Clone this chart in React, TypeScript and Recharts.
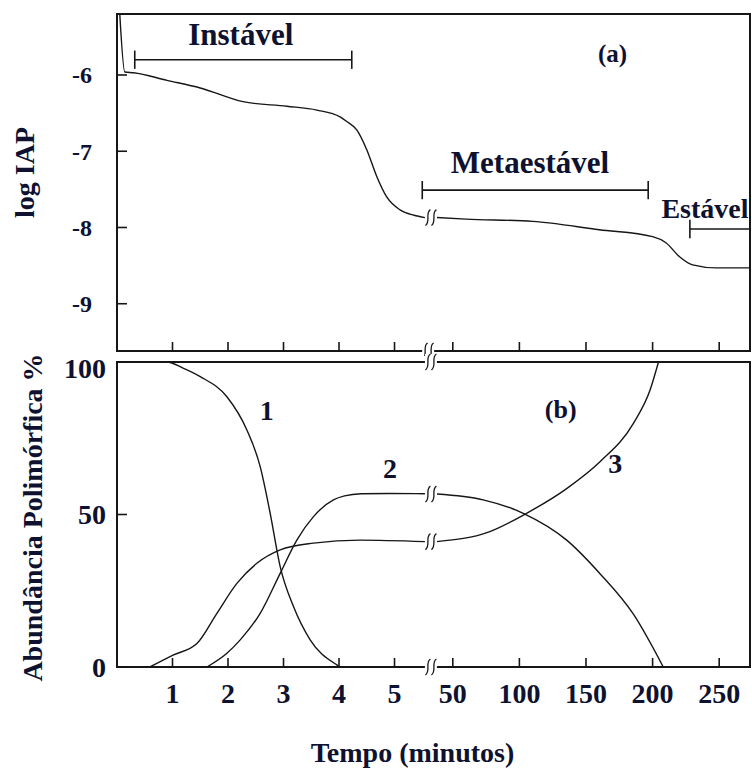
import React from "react";
import { LineChart, Line, XAxis, YAxis, ReferenceArea, ReferenceLine, ReferenceDot, Label } from "recharts";

const INK = "#161616";
const TEXT = "#0e1230";
const FONT = '"Liberation Serif", "Times New Roman", serif';

// broken time axis: 0-5 min drawn linearly, then 50-250 min compressed
const toAxis = (t: number) => (t <= 6 ? t : 6.05 + (t - 50) * 0.024);
const X_MAX = 11.405;

// log IAP vs time (minutes)
const iapEarly: [number, number][] = [
  [0.05, -5.2], [0.14, -5.96], [0.3, -5.97], [0.9, -6.07], [1.5, -6.17], [2.27, -6.35],
  [3.06, -6.41], [3.6, -6.46], [4.02, -6.55], [4.14, -6.61], [4.32, -6.72], [4.5, -6.98],
  [4.68, -7.33], [4.86, -7.6], [5.1, -7.77], [5.35, -7.84], [5.55, -7.87],
];
const iapLate: [number, number][] = [
  [38, -7.87], [60, -7.89], [110, -7.92], [160, -8.03], [200, -8.12], [210, -8.2],
  [220, -8.38], [230, -8.49], [248, -8.53], [273, -8.53],
];

// polymorph abundance (%) vs time (minutes)
const form1Early: [number, number][] = [
  [0, 100], [0.9, 100], [1.19, 98], [1.5, 95.2], [1.98, 88.6], [2.34, 77.7], [2.58, 65.7],
  [2.76, 50.4], [2.94, 32.9], [3.18, 19.8], [3.48, 8.9], [3.96, 0.7], [4.02, 0], [5.55, 0],
];
const form2Early: [number, number][] = [
  [1.62, 0], [1.98, 4.5], [2.22, 8.9], [2.58, 17.6], [2.94, 30.7], [3.24, 41.6],
  [3.54, 49.3], [3.9, 54.8], [4.1, 56.1], [4.4, 56.8], [4.9, 56.9], [5.55, 56.8],
];
const form2Late: [number, number][] = [
  [38, 56.7], [72.8, 54.8], [102.9, 50.4], [135.5, 41.6], [160.5, 30.6], [185.6, 17.3],
  [208, 0],
];
const form3Early: [number, number][] = [
  [0.59, 0], [1.01, 3.9], [1.44, 7.7], [1.8, 17.6], [2.16, 27.4], [2.52, 34], [2.94, 38.4],
  [3.54, 40.6], [4.38, 41.6], [5.55, 41.1],
];
const form3Late: [number, number][] = [
  [38, 41.1], [77.8, 44.4], [105.4, 50.4], [135.5, 58.5], [160.5, 67.3], [185.6, 79.9],
  [198.1, 90.8], [204.4, 100],
];

const xTickMinutes = [1, 2, 3, 4, 5, 50, 100, 150, 200, 250];
const iapTicks = [-6, -7, -8, -9];
const abundTicks = [0, 50, 100];
const IAP_DOMAIN: [number, number] = [-9.62, -5.2];

const xTicks = xTickMinutes.map(toAxis);
const BREAK_X = (toAxis(5.55) + toAxis(38)) / 2;
const pts = (arr: [number, number][]) => arr.map(([t, v]) => ({ x: toAxis(t), v }));

const txt = (size: number) => ({
  fontFamily: FONT,
  fontWeight: "bold" as const,
  fontSize: size,
  fill: TEXT,
});

const XTick = (props: any) => {
  const { x, y, payload, showLabel } = props;
  const i = xTicks.findIndex((t) => Math.abs(t - payload.value) < 1e-6);
  return (
    <g>
      <line x1={x} y1={y} x2={x} y2={y - 9} stroke={INK} strokeWidth={1.6} />
      {showLabel && (
        <text x={x} y={y + 36} textAnchor="middle" {...txt(28)}>
          {xTickMinutes[i]}
        </text>
      )}
    </g>
  );
};

const YTick = (props: any) => {
  const { x, y, payload, gap, size, topValue } = props;
  const shift = payload.value === topValue ? 6 : 0;
  return (
    <g>
      <line x1={x} y1={y} x2={x + 10} y2={y} stroke={INK} strokeWidth={1.6} />
      <text x={x - gap} y={y + shift} dy="0.35em" textAnchor="end" {...txt(size)}>
        {payload.value}
      </text>
    </g>
  );
};

const BreakMark = (p: any) => {
  const { cx, cy } = p;
  return (
    <g fill="none" stroke={INK} strokeWidth={1.3}>
      <rect x={cx - 6} y={cy - 8} width={12} height={16} fill="#fff" stroke="none" />
      {[-3, 3].map((dx) => (
        <path
          key={dx}
          d={`M${cx + dx + 2.5},${cy - 8} C${cx + dx - 3},${cy - 5} ${cx + dx + 3},${cy + 4} ${cx + dx - 2.5},${cy + 8}`}
        />
      ))}
    </g>
  );
};

const TextMark = (value: string, size: number, anchor = "middle") => (p: any) => (
  <text x={p.cx} y={p.cy} textAnchor={anchor} {...txt(size)}>
    {value}
  </text>
);

// brackets in panel (a): [from, to] in minutes, at a log IAP level
const brackets = [
  { from: 0.32, to: 4.23, level: -5.8, capLeft: true, capRight: true },
  { from: 5.5, to: 196.7, level: -7.51, capLeft: true, capRight: true },
  { from: 228, to: 273, level: -8.02, capLeft: true, capRight: false },
];

const lineProps = {
  dataKey: "v",
  type: "monotone" as const,
  dot: false,
  stroke: INK,
  strokeWidth: 1.4,
  isAnimationActive: false,
};

export default function App() {
  return (
    <div style={{ position: "absolute", left: 0, top: 0, width: 752, height: 771, background: "#fff" }}>
      <div style={{ position: "absolute", left: 0, top: 0 }}>
        <LineChart width={752} height={356} margin={{ top: 14, right: 2, bottom: 4, left: 57 }}>
          <XAxis
            dataKey="x"
            type="number"
            domain={[0, X_MAX]}
            ticks={xTicks}
            interval={0}
            height={1}
            tickSize={0}
            tickMargin={0}
            axisLine={false}
            tickLine={false}
            tick={(p: any) => <XTick {...p} showLabel={false} />}
            allowDataOverflow
          />
          <YAxis
            type="number"
            domain={IAP_DOMAIN}
            ticks={iapTicks}
            interval={0}
            width={60}
            tickSize={0}
            tickMargin={0}
            axisLine={false}
            tickLine={false}
            tick={(p: any) => <YTick {...p} gap={25} size={24} />}
            allowDataOverflow
          >
            <Label
              content={({ viewBox }: any) => (
                <text
                  transform={`translate(${viewBox.x - 33},${viewBox.y + viewBox.height / 2 - 10}) rotate(-90)`}
                  textAnchor="middle"
                  dominantBaseline="central"
                  {...txt(28)}
                >
                  log IAP
                </text>
              )}
            />
          </YAxis>
          <ReferenceArea x1={0} x2={X_MAX} y1={IAP_DOMAIN[0]} y2={IAP_DOMAIN[1]} fill="none" stroke={INK} strokeWidth={2} />
          <Line data={pts(iapEarly)} {...lineProps} />
          <Line data={pts(iapLate)} {...lineProps} />
          {brackets.map((b, i) => {
            const a = toAxis(b.from);
            const c = toAxis(b.to);
            return (
              <React.Fragment key={i}>
                <ReferenceLine segment={[{ x: a, y: b.level }, { x: c, y: b.level }]} stroke={INK} strokeWidth={1.6} ifOverflow="visible" />
                {b.capLeft && (
                  <ReferenceLine segment={[{ x: a, y: b.level - 0.12 }, { x: a, y: b.level + 0.12 }]} stroke={INK} strokeWidth={1.6} />
                )}
                {b.capRight && (
                  <ReferenceLine segment={[{ x: c, y: b.level - 0.12 }, { x: c, y: b.level + 0.12 }]} stroke={INK} strokeWidth={1.6} />
                )}
              </React.Fragment>
            );
          })}
          <ReferenceDot x={toAxis(2.23)} y={-5.61} r={0} shape={TextMark("Instável", 31)} />
          <ReferenceDot x={toAxis(108)} y={-7.28} r={0} shape={TextMark("Metaestável", 31)} />
          <ReferenceDot x={toAxis(272)} y={-7.87} r={0} shape={TextMark("Estável", 28, "end")} />
          <ReferenceDot x={toAxis(170)} y={-5.83} r={0} shape={TextMark("(a)", 25)} />
          <ReferenceDot x={BREAK_X} y={-7.87} r={0} shape={BreakMark} />
          <ReferenceDot x={BREAK_X - 0.05} y={IAP_DOMAIN[0]} r={0} shape={BreakMark} ifOverflow="visible" />
        </LineChart>
      </div>
      <div style={{ position: "absolute", left: 0, top: 300 }}>
        <LineChart width={752} height={471} margin={{ top: 62, right: 2, bottom: 103, left: 57 }}>
          <XAxis
            dataKey="x"
            type="number"
            domain={[0, X_MAX]}
            ticks={xTicks}
            interval={0}
            height={1}
            tickSize={0}
            tickMargin={0}
            axisLine={false}
            tickLine={false}
            tick={(p: any) => <XTick {...p} showLabel />}
            allowDataOverflow
          >
            <Label
              content={({ viewBox }: any) => (
                <text x={viewBox.x + viewBox.width / 2 - 21} y={viewBox.y + 95} textAnchor="middle" {...txt(28)}>
                  Tempo (minutos)
                </text>
              )}
            />
          </XAxis>
          <YAxis
            type="number"
            domain={[0, 100]}
            ticks={abundTicks}
            interval={0}
            width={60}
            tickSize={0}
            tickMargin={0}
            axisLine={false}
            tickLine={false}
            tick={(p: any) => <YTick {...p} gap={11} size={28} topValue={100} />}
            allowDataOverflow
          >
            <Label
              content={({ viewBox }: any) => (
                <text
                  transform={`translate(${viewBox.x - 25},${viewBox.y + viewBox.height / 2 + 3}) rotate(-90)`}
                  textAnchor="middle"
                  dominantBaseline="central"
                  {...txt(28)}
                >
                  Abundância Polimórfica %
                </text>
              )}
            />
          </YAxis>
          <ReferenceArea x1={0} x2={X_MAX} y1={0} y2={100} fill="none" stroke={INK} strokeWidth={2} />
          <Line data={pts(form1Early)} {...lineProps} />
          <Line data={pts(form2Early)} {...lineProps} />
          <Line data={pts(form2Late)} {...lineProps} />
          <Line data={pts(form3Early)} {...lineProps} />
          <Line data={pts(form3Late)} {...lineProps} />
          <ReferenceDot x={toAxis(2.7)} y={81} r={0} shape={TextMark("1", 28)} />
          <ReferenceDot x={toAxis(4.92)} y={62} r={0} shape={TextMark("2", 28)} />
          <ReferenceDot x={toAxis(131)} y={81.6} r={0} shape={TextMark("(b)", 26)} />
          <ReferenceDot x={toAxis(172)} y={63.6} r={0} shape={TextMark("3", 28)} />
          <ReferenceDot x={BREAK_X} y={56.7} r={0} shape={BreakMark} />
          <ReferenceDot x={BREAK_X} y={41.1} r={0} shape={BreakMark} />
          <ReferenceDot x={BREAK_X} y={0} r={0} shape={BreakMark} />
          <ReferenceDot x={BREAK_X} y={100} r={0} shape={BreakMark} />
        </LineChart>
      </div>
    </div>
  );
}
